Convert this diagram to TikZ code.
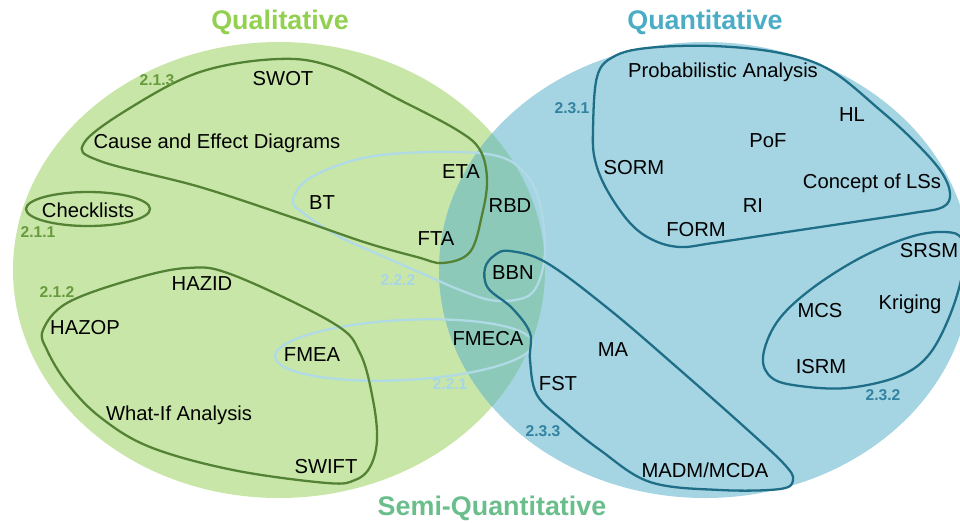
\documentclass[tikz,border=0pt]{standalone}
\usepackage{fontspec}
\setmainfont{Liberation Sans}
\usepackage{xcolor}
\usepackage{tikz}
\usetikzlibrary{positioning}

\definecolor{fundoQl}{RGB}{200,230,167}
\definecolor{fundoQt}{RGB}{165,212,226}
\definecolor{fundoSq}{RGB}{140,201,184}
\definecolor{tituloQl}{RGB}{146,208,80}
\definecolor{tituloQt}{RGB}{75,172,198}
\definecolor{tituloSq}{RGB}{105,190,140}
\definecolor{linhaQl}{RGB}{84,130,53}
\definecolor{numQl}{RGB}{104,154,62}
\definecolor{linhaQt}{RGB}{31,110,135}
\definecolor{numQt}{RGB}{50,130,160}
\definecolor{linhaSq}{RGB}{176,219,230}
\definecolor{numSq}{RGB}{168,214,230}

\begin{document}
\begin{tikzpicture}[x=0.02cm,y=-0.02cm,
    metodo/.style={font=\fontsize{11.5}{13}\selectfont, inner sep=0pt},
    titulo/.style={font=\fontsize{15.3}{18}\selectfont\bfseries, inner sep=0pt},
    secao/.style={font=\fontsize{8.9}{10}\selectfont\bfseries, inner sep=0pt},
    grupoQl/.style={draw=linhaQl, line width=1.3pt},
    grupoQt/.style={draw=linhaQt, line width=1.3pt},
    grupoSq/.style={draw=linhaSq, line width=1.3pt}]

\useasboundingbox (0,0) rectangle (960,522);
\clip (0,0) rectangle (960,522);

% Conjuntos (elipses grandes)
\fill[fundoQl] (279,270) ellipse [x radius=266, y radius=228];
\fill[fundoQt] (705,270) ellipse [x radius=266, y radius=228];
\begin{scope}
    \clip (279,270) ellipse [x radius=266, y radius=228];
    \fill[fundoSq] (705,270) ellipse [x radius=266, y radius=228];
\end{scope}

% Titulos
\node[titulo, text=tituloQl] (qualitativo) at (280,22) {Qualitative};
\node[titulo, text=tituloQt] (quantitativo) at (705,22) {Quantitative};
\node[titulo, text=tituloSq] (semiquant) at (492,508) {Semi-Quantitative};

% Grupos semi-quantitativos (2.2.x)
\draw[grupoSq] plot[smooth cycle, tension=0.6] coordinates {(293,200) (310,178) (363,158) (430,152) (493,155) (522,170) (538,197) (545,240) (542,272) (532,293) (515,300) (490,300) (460,290) (430,277) (380,255) (340,237) (303,213)};
\draw[grupoSq, rotate around={3:(404,350)}] (404,350) ellipse [x radius=129, y radius=30];

% Grupos qualitativos (2.1.x)
\draw[grupoQl] (88,209) ellipse [x radius=62, y radius=17];
\draw[grupoQl] plot[smooth cycle, tension=0.6] coordinates {(84,143) (130,108) (200,72) (278,59) (333,67) (400,100) (457,130) (480,150) (487,180) (482,215) (470,252) (443,263) (417,257) (367,243) (300,220) (200,187) (100,161)};
\draw[grupoQl] plot[smooth cycle, tension=0.6] coordinates {(43,330) (67,303) (130,280) (187,268) (233,275) (333,323) (360,353) (373,400) (377,440) (370,467) (355,480) (327,483) (233,470) (150,447) (100,417) (67,383) (47,350)};

% Grupos quantitativos (2.3.x)
\draw[grupoQt] plot[smooth cycle, tension=0.6] coordinates {(593,130) (597,77) (613,57) (647,48) (713,46) (780,53) (830,70) (880,110) (913,140) (940,170) (950,193) (943,207) (913,213) (847,223) (780,233) (713,243) (680,247) (653,240) (630,223) (607,190) (595,160)};
\draw[grupoQt] plot[smooth cycle, tension=0.6] coordinates {(763,357) (777,322) (810,290) (860,258) (910,237) (945,232) (962,240) (962,275) (948,320) (927,357) (897,377) (847,388) (800,386) (772,378)};
\draw[grupoQt] plot[smooth cycle, tension=0.6] coordinates {(510,251) (547,263) (610,310) (680,370) (750,432) (785,465) (793,480) (780,489) (720,490) (650,482) (600,450) (565,422) (537,395) (530,360) (530,333) (512,308) (488,288) (485,268) (495,255)};

% Numeros das secoes
\node[secao, text=numQl] (s211) at (38,232) {2.1.1};
\node[secao, text=numQl] (s212) at (57,292) {2.1.2};
\node[secao, text=numQl] (s213) at (157,80) {2.1.3};
\node[secao, text=numSq] (s221) at (450,384) {2.2.1};
\node[secao, text=numSq] (s222) at (398,280) {2.2.2};
\node[secao, text=numQt] (s231) at (572,108) {2.3.1};
\node[secao, text=numQt] (s232) at (883,395) {2.3.2};
\node[secao, text=numQt] (s233) at (543,431) {2.3.3};

% Metodos qualitativos
\node[metodo] (swot) at (283,79) {SWOT};
\node[metodo] (causa) at (217,143) {Cause and Effect Diagrams};
\node[metodo] (checklists) at (88,210) {Checklists};
\node[metodo] (bt) at (322,203) {BT};
\node[metodo] (eta) at (461,172) {ETA};
\node[metodo] (fta) at (436,239) {FTA};
\node[metodo] (hazid) at (202,284) {HAZID};
\node[metodo] (hazop) at (85,328) {HAZOP};
\node[metodo] (fmea) at (312,355) {FMEA};
\node[metodo] (whatif) at (179,415) {What-If Analysis};
\node[metodo] (swift) at (326,467) {SWIFT};

% Metodos semi-quantitativos
\node[metodo] (rbd) at (510,206) {RBD};
\node[metodo] (bbn) at (513,273) {BBN};
\node[metodo] (fmeca) at (488,339) {FMECA};

% Metodos quantitativos
\node[metodo] (probab) at (723,72) {Probabilistic Analysis};
\node[metodo] (hl) at (852,115) {HL};
\node[metodo] (pof) at (768,141) {PoF};
\node[metodo] (sorm) at (634,168) {SORM};
\node[metodo] (conceito) at (872,183) {Concept of LSs};
\node[metodo] (ri) at (753,206) {RI};
\node[metodo] (form) at (696,230) {FORM};
\node[metodo] (srsm) at (929,251) {SRSM};
\node[metodo] (mcs) at (820,311) {MCS};
\node[metodo] (kriging) at (910,304) {Kriging};
\node[metodo] (isrm) at (821,367) {ISRM};
\node[metodo] (ma) at (613,350) {MA};
\node[metodo] (fst) at (558,384) {FST};
\node[metodo] (madm) at (705,470) {MADM/MCDA};

\end{tikzpicture}
\end{document}
